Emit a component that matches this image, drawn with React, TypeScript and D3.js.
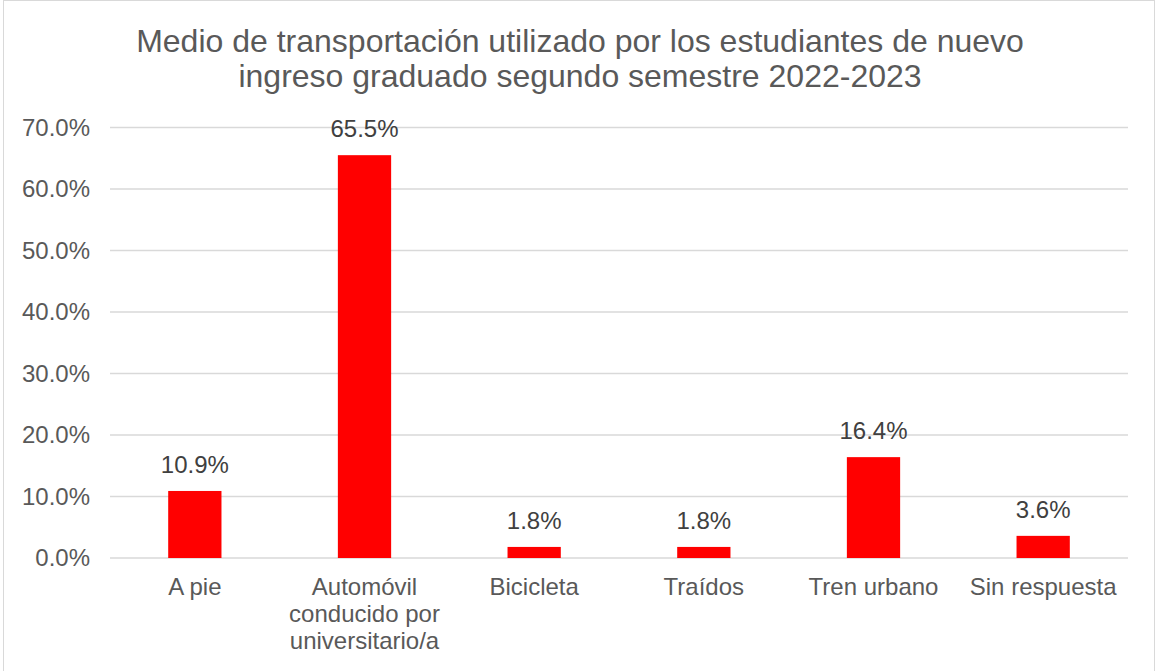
import React from "react";
import * as d3 from "d3";

const categories: string[][] = [
  ["A pie"],
  ["Automóvil", "conducido por", "universitario/a"],
  ["Bicicleta"],
  ["Traídos"],
  ["Tren urbano"],
  ["Sin respuesta"],
];
const values: number[] = [10.9, 65.5, 1.8, 1.8, 16.4, 3.6];
const yTicks: number[] = [0, 10, 20, 30, 40, 50, 60, 70];
const titleLines: string[] = [
  "Medio de transportación utilizado por los estudiantes de nuevo",
  "ingreso graduado segundo semestre 2022-2023",
];

const W = 1155;
const H = 671;
const left = 110;
const right = 1128;
const top = 127.5;
const bottom = 558;
const font = "'Liberation Sans', Arial, sans-serif";

export default function App() {
  const x = d3
    .scaleBand<number>()
    .domain(values.map((_, i) => i))
    .range([left, right])
    .paddingInner(0.686)
    .paddingOuter(0.343);
  const y = d3.scaleLinear().domain([0, 70]).range([bottom, top]);
  const fmt = (v: number) => d3.format(".1f")(v) + "%";

  return (
    <svg
      width={W}
      height={H}
      style={{ position: "absolute", left: 0, top: 0, background: "#fff" }}
      fontFamily={font}
    >
      <rect x={3.5} y={0.5} width={W - 4} height={H + 5} fill="#fff" stroke="#d9d9d9" />
      {titleLines.map((t, i) => (
        <text key={i} x={580} y={52 + i * 35} textAnchor="middle" fontSize={32} fill="#595959">
          {t}
        </text>
      ))}
      {yTicks.map((t) => (
        <g key={t}>
          <line x1={left} x2={right} y1={y(t)} y2={y(t)} stroke="#d9d9d9" strokeWidth={1.5} />
          <text x={90} y={y(t)} dy="0.35em" textAnchor="end" fontSize={24} fill="#595959">
            {fmt(t)}
          </text>
        </g>
      ))}
      {values.map((v, i) => (
        <g key={i}>
          <rect x={x(i)} y={y(v)} width={x.bandwidth()} height={y(0) - y(v)} fill="#ff0000" />
          <text
            x={(x(i) as number) + x.bandwidth() / 2}
            y={y(v) - 18}
            textAnchor="middle"
            fontSize={24}
            fill="#404040"
          >
            {fmt(v)}
          </text>
          {categories[i].map((l, j) => (
            <text
              key={j}
              x={(x(i) as number) + x.bandwidth() / 2}
              y={595 + j * 27}
              textAnchor="middle"
              fontSize={24}
              fill="#595959"
            >
              {l}
            </text>
          ))}
        </g>
      ))}
    </svg>
  );
}
